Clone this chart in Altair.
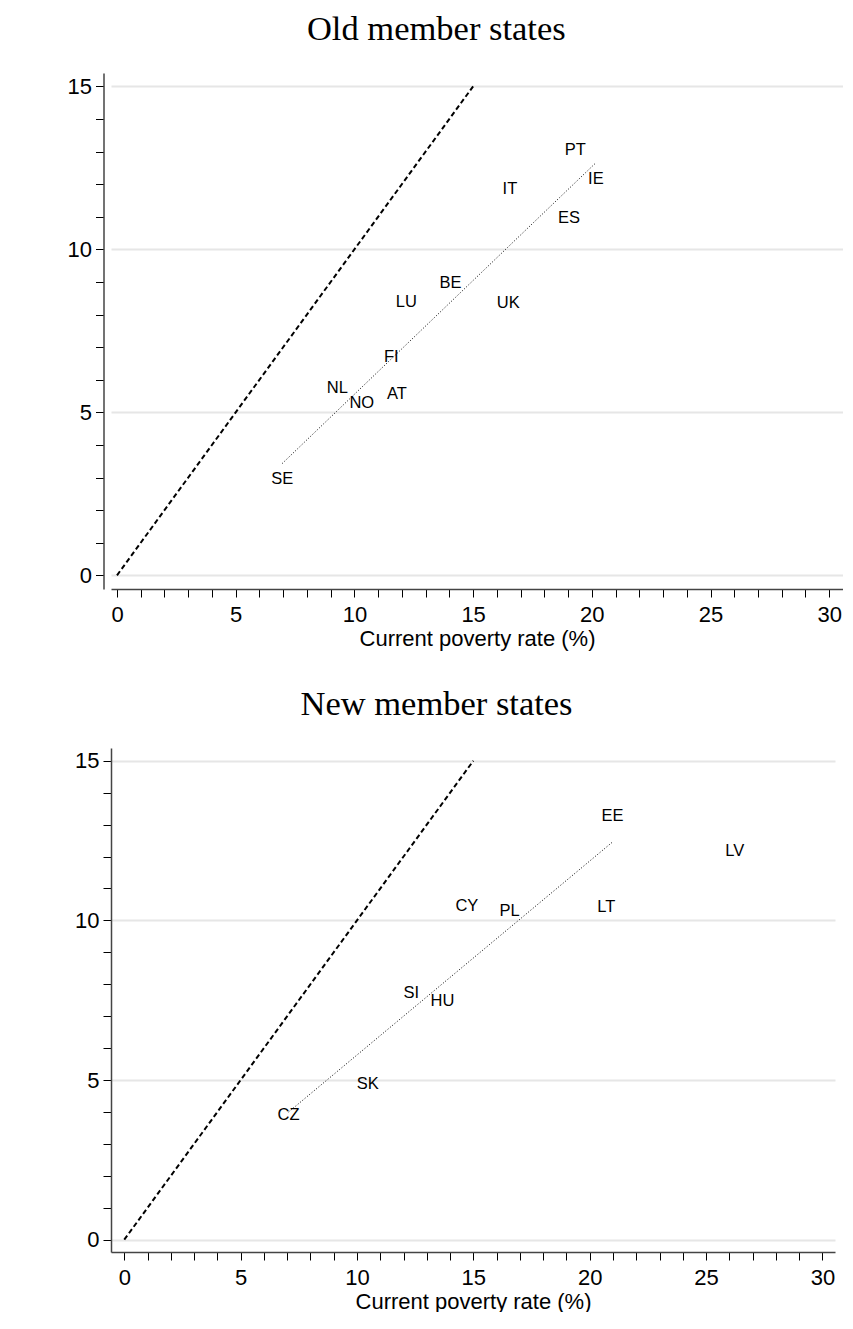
import altair as alt
import pandas as pd

# ---- data ----
old_countries = ["PT", "IE", "IT", "ES", "BE", "UK", "LU", "FI", "NL", "NO", "AT", "SE"]
old_current = [19.3, 20.17, 16.55, 19.04, 14.05, 16.48, 12.19, 11.55, 9.28, 10.31, 11.79, 6.96]
old_persistent = [13.06, 12.15, 11.84, 10.95, 8.98, 8.36, 8.38, 6.69, 5.74, 5.28, 5.55, 2.95]
old_in_fit = [True] * 12

new_countries = ["EE", "LV", "CY", "PL", "LT", "HU", "SI", "SK", "CZ"]
new_current = [20.98, 26.23, 14.72, 16.56, 20.71, 13.67, 12.33, 10.46, 7.06]
new_persistent = [13.26, 12.18, 10.46, 10.31, 10.43, 7.48, 7.74, 4.87, 3.90]
new_in_fit = [True, False, True, True, True, True, True, True, True]

diag_values = [0, 15]
x_ticks = list(range(0, 31))
y_ticks = list(range(0, 16))

SANS = "Liberation Sans"
SERIF = "Liberation Serif"


def panel(title, countries, current, persistent, in_fit, x_dom, y_dom, w, h,
          min_ext, y_off, title_dx):
    df = pd.DataFrame({"country": countries, "current": current,
                       "persistent": persistent, "fit": in_fit})
    diag = pd.DataFrame({"current": diag_values, "persistent": diag_values})

    x_enc = alt.X("current:Q",
                  scale=alt.Scale(domain=x_dom, nice=False, zero=False),
                  axis=alt.Axis(values=x_ticks,
                                labelExpr="datum.value % 5 === 0 ? datum.label : ''",
                                labelOverlap=False, labelFlush=False,
                                grid=False, tickSize=8, tickColor="#000", tickWidth=1,
                                domainColor="#444", domainWidth=1.5,
                                labelFont=SANS, labelFontSize=22, labelColor="#000",
                                labelPadding=7,
                                title="Current poverty rate (%)", titleFont=SANS,
                                titleFontSize=22, titleFontWeight="normal",
                                titleColor="#000", titlePadding=3))
    y_enc = alt.Y("persistent:Q",
                  scale=alt.Scale(domain=y_dom, nice=False, zero=False),
                  axis=alt.Axis(values=y_ticks,
                                labelExpr="datum.value % 5 === 0 ? datum.label : ''",
                                labelOverlap=False, labelFlush=False,
                                grid=True, gridColor="#e6e6e6", gridWidth=2,
                                gridOpacity={"condition": {"test": "datum.value % 5 === 0", "value": 1}, "value": 0},
                                tickSize=8, tickColor="#000", tickWidth=1,
                                domainColor="#444", domainWidth=1.5,
                                labelFont=SANS, labelFontSize=22, labelColor="#000",
                                labelPadding=4, minExtent=min_ext, offset=y_off,
                                title=None))

    diag_layer = alt.Chart(diag).mark_line(color="#000", strokeDash=[5, 3], strokeWidth=2).encode(
        x=x_enc, y=y_enc)
    fit_layer = alt.Chart(df).transform_filter("datum.fit").transform_regression(
        "current", "persistent").mark_line(color="#000", strokeDash=[1, 2], strokeWidth=1).encode(
        x=x_enc, y=y_enc)
    label_layer = alt.Chart(df).mark_text(font=SANS, fontSize=16.5, color="#000",
                                          align="center", baseline="middle").encode(
        x=x_enc, y=y_enc, text="country:N")

    return alt.layer(diag_layer, fit_layer, label_layer).properties(
        width=w, height=h,
        title=alt.TitleParams(title, font=SERIF, fontSize=34.5, fontWeight="normal",
                              color="#000", anchor="middle", dx=title_dx, offset=26))


top = panel("Old member states", old_countries, old_current, old_persistent, old_in_fit,
            [-0.253, 30.58], [-0.42, 15.41], 732, 516, 95, 7.5, -40.7)
bottom = panel("New member states", new_countries, new_current, new_persistent, new_in_fit,
               [-0.57, 30.54], [-0.385, 15.40], 724, 504, 102.7, 0, -36.5)

chart = alt.vconcat(top, bottom, spacing=37).properties(
    padding={"left": 0, "top": 3, "right": 0, "bottom": 0}
).configure_view(stroke=None)

chart.save("out.html", embed_options={"renderer": "svg", "actions": False})
